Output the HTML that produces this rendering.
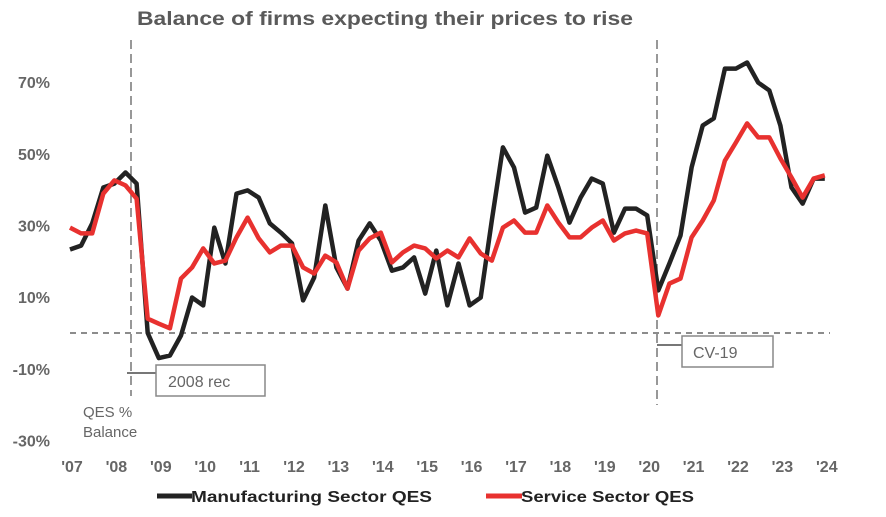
<!DOCTYPE html>
<html><head><meta charset="utf-8"><style>
body{margin:0;background:#fff;}
svg{display:block;font-family:"Liberation Sans",sans-serif;}
</style></head><body>
<svg id="c" width="886" height="517" viewBox="0 0 886 517">
<text x="137" y="25" font-size="19" font-weight="bold" fill="#5a5a5a" textLength="496" lengthAdjust="spacingAndGlyphs">Balance of firms expecting their prices to rise</text>
<g id="yaxis"></g>
<g id="xaxis"></g>
<line x1="70" y1="333" x2="830" y2="333" stroke="#666" stroke-width="1.5" stroke-dasharray="6,5"/>
<line x1="131" y1="40" x2="131" y2="396" stroke="#777" stroke-width="1.5" stroke-dasharray="9,5"/>
<line x1="657" y1="40" x2="657" y2="405" stroke="#777" stroke-width="1.5" stroke-dasharray="9,5"/>
<g id="series"></g>
<line x1="127" y1="373" x2="156" y2="373" stroke="#777" stroke-width="2"/>
<rect x="156" y="365" width="109" height="31" fill="#fff" stroke="#888" stroke-width="1.5"/>
<text x="168" y="387" font-size="16" fill="#666">2008 rec</text>
<line x1="657" y1="345" x2="682" y2="345" stroke="#777" stroke-width="2"/>
<rect x="682" y="336" width="91" height="31" fill="#fff" stroke="#888" stroke-width="1.5"/>
<text x="693" y="358" font-size="16" fill="#666">CV-19</text>
<text x="83" y="417" font-size="15" fill="#666">QES %</text>
<text x="83" y="437" font-size="15" fill="#666">Balance</text>
<line x1="157" y1="496" x2="192" y2="496" stroke="#222" stroke-width="5"/>
<text x="191" y="502" font-size="16" font-weight="bold" fill="#222" textLength="241" lengthAdjust="spacingAndGlyphs">Manufacturing Sector QES</text>
<line x1="486" y1="496" x2="522" y2="496" stroke="#e8312f" stroke-width="5"/>
<text x="521" y="502" font-size="16" font-weight="bold" fill="#222" textLength="173" lengthAdjust="spacingAndGlyphs">Service Sector QES</text>
</svg>
<script>
const yTicks=[70,50,30,10,-10,-30];
const yearLabels=["'07","'08","'09","'10","'11","'12","'13","'14","'15","'16","'17","'18","'19","'20","'21","'22","'23","'24"];
const manufacturing=[23.3,24.4,30.6,40.6,41.7,44.8,41.7,0,-7,-6.3,-0.7,9.9,7.7,29.4,19.4,38.9,39.8,37.8,30.6,28,25,9.1,15.5,35.6,18.3,12.4,25.8,30.6,25.8,17.4,18.3,21.1,11,23,7.7,19.4,7.7,9.9,31.4,51.8,46.2,33.6,35,49.5,40.6,30.8,37.8,43.1,41.7,28,34.7,34.7,32.8,11.9,19.4,27.2,46.2,57.9,59.9,73.8,73.8,75.5,69.9,67.7,57.9,40.6,36.1,43.1,43.1];
const services=[29.4,27.8,27.8,38.9,42.6,41.2,37.5,4,2.6,1.3,15.2,18.3,23.6,19.4,20.2,26.7,32.2,26.4,22.5,24.4,24.4,18.3,16.6,21.6,19.7,12.4,23,26.4,28,19.7,22.5,24.4,23.6,20.8,23,21.1,26.4,22.2,20.2,29.4,31.4,28,28,35.6,30.8,26.7,26.7,29.4,31.4,25.8,27.8,28.6,27.8,4.9,13.8,15.2,26.7,31.4,37,48.1,53.2,58.5,54.6,54.6,48.7,43.4,37.8,43.1,44];
const NS="http://www.w3.org/2000/svg";
const y=v=>333-v*3.583;
const x=i=>70+i*11.1;
const yearX=k=>72+k*44.4;
const ya=document.getElementById('yaxis'),xa=document.getElementById('xaxis'),sg=document.getElementById('series');
yTicks.forEach(v=>{const t=document.createElementNS(NS,'text');


t.setAttribute('x',50);t.setAttribute('y',y(v)+6);t.setAttribute('text-anchor','end');
t.setAttribute('font-size','16');t.setAttribute('font-weight','bold');t.setAttribute('fill','#666');
t.textContent=v+'%';ya.appendChild(t);});
yearLabels.forEach((s,k)=>{const t=document.createElementNS(NS,'text');


t.setAttribute('x',yearX(k));t.setAttribute('y',472);t.setAttribute('text-anchor','middle');
t.setAttribute('font-size','16');t.setAttribute('font-weight','bold');t.setAttribute('fill','#666');
t.textContent=s;xa.appendChild(t);});
function line(d,c,name){const p=document.createElementNS(NS,'polyline');


p.setAttribute('points',d.map((v,i)=>x(i)+','+y(v)).join(' '));
p.setAttribute('fill','none');p.setAttribute('stroke',c);p.setAttribute('stroke-width','4.5');p.setAttribute('stroke-linejoin','round');
sg.appendChild(p);}
line(manufacturing,'#222','manufacturing-line');
line(services,'#e8312f','services-line');
</script>
</body></html>
